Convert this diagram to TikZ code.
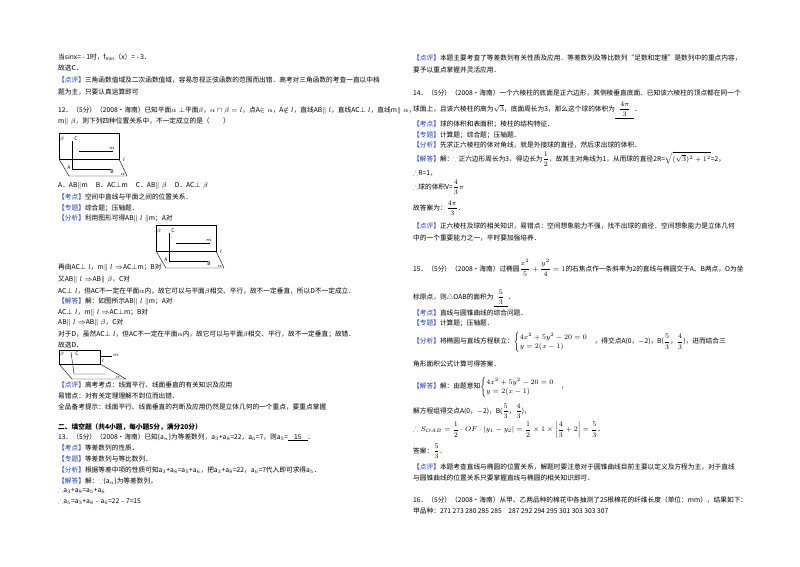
\documentclass[tikz,border=0pt]{standalone}
\usepackage{amsmath,amssymb}
\usepackage{fontspec}
\setmainfont{Noto Sans CJK SC}
\definecolor{tagblue}{RGB}{30,60,220}
\newcommand{\tx}[3]{\node[anchor=west,inner sep=0pt] at (#1,#2) {#3};}
\newcommand{\tg}[1]{\textcolor{tagblue}{【#1】}}
\newcommand{\planefig}[2]{%
\begin{scope}[shift={(#1,#2)}]
\draw (2,0) rectangle (62,26);
\draw[dashed] (2,26) -- (62,26);
\draw (2,26) -- (12,43) -- (70,43) -- (62,26);
\draw (15,8) -- (15,36) -- (54,36);
\draw (22,18) -- (56,18);
\node[font=\tiny,inner sep=0] at (5,6) {$\beta$};
\node[font=\tiny,inner sep=0] at (19,6) {C};
\node[font=\tiny,inner sep=0] at (55,15) {$m$};
\node[font=\tiny,inner sep=0] at (67,27) {$l$};
\node[font=\tiny,inner sep=0] at (12,35) {A};
\node[font=\tiny,inner sep=0] at (55,39) {B};
\node[font=\tiny,inner sep=0] at (66,41) {$\alpha$};
\end{scope}}
\begin{document}
\begin{tikzpicture}[x=1pt,y=-1pt,font=\fontsize{6.7}{8}\selectfont]
\fill[white] (0,0) rectangle (800,566);
% left column
\tx{58}{57}{当sinx= - 1时，f$_{\min}$（x）= - 3．}
\tx{58}{68}{故选C．}
\tx{58}{80}{\tg{点评}三角函数值域及二次函数值域，容易忽视正弦函数的范围而出错．高考对三角函数的考查一直以中档}
\tx{58}{92}{题为主，只要认真运算即可}
\tx{58}{111}{12．（5分）（2008•海南）已知平面$\alpha\perp$平面$\beta$，$\alpha\cap\beta=l$，点A$\in\alpha$，A$\notin l$，直线AB$\parallel l$，直线AC$\perp l$，直线m$\parallel\alpha$，}
\tx{58}{122}{m$\parallel\beta$，则下列四种位置关系中，不一定成立的是（　　）}
\planefig{57}{133}
\tx{58}{186}{A．AB$\parallel$m　 B．AC$\perp$m　 C．AB$\parallel\beta$　 D．AC$\perp\beta$}
\tx{58}{197}{\tg{考点}空间中直线与平面之间的位置关系．}
\tx{58}{208}{\tg{专题}综合题；压轴题．}
\tx{58}{219}{\tg{分析}利用图形可得AB$\parallel l\parallel$m；A对}
\planefig{154}{225}
\tx{58}{268}{再由AC$\perp l$，m$\parallel l\Rightarrow$AC$\perp$m；B对}
\tx{58}{280}{又AB$\parallel l\Rightarrow$AB$\parallel\beta$，C对}
\tx{58}{291}{AC$\perp l$，但AC不一定在平面$\alpha$内，故它可以与平面$\beta$相交、平行，故不一定垂直，所以D不一定成立．}
\tx{58}{302}{\tg{解答}解：如图所示AB$\parallel l\parallel$m；A对}
\tx{58}{313}{AC$\perp l$，m$\parallel l\Rightarrow$AC$\perp$m；B对}
\tx{58}{323}{AB$\parallel l\Rightarrow$AB$\parallel\beta$，C对}
\tx{58}{334}{对于D，虽然AC$\perp l$，但AC不一定在平面$\alpha$内，故它可以与平面$\beta$相交、平行，故不一定垂直；故错．}
\tx{58}{345}{故选D．}
\begin{scope}[shift={(58,350)}]
\draw (1,0) rectangle (42,14);
\draw (1,14) -- (14,29) -- (68,29) -- (42,14);
\draw (42,14) -- (42,6) -- (54,6);
\draw (13,2) -- (16,24) -- (48,24);
\node[font=\tiny,inner sep=0] at (4,4) {$\beta$};
\node[font=\tiny,inner sep=0] at (19,4) {C};
\node[font=\tiny,inner sep=0] at (58,5) {$m$};
\node[font=\tiny,inner sep=0] at (45,11) {$l$};
\node[font=\tiny,inner sep=0] at (60,27) {$\alpha$};
\end{scope}
\tx{58}{385}{\tg{点评}高考考点：线面平行、线面垂直的有关知识及应用}
\tx{58}{396}{易错点：对有关定理理解不到位而出错．}
\tx{58}{407}{全品备考提示：线面平行、线面垂直的判断及应用仍然是立体几何的一个重点，要重点掌握}
\tx{58}{427}{\textbf{二、填空题（共4小题，每小题5分，满分20分）}}
\tx{58}{437}{13．（5分）（2008•海南）已知\{a$_n$\}为等差数列，a$_3$+a$_8$=22，a$_6$=7，则a$_5$=\underline{\hspace{6pt}15\hspace{6pt}}．}
\tx{58}{448}{\tg{考点}等差数列的性质．}
\tx{58}{459}{\tg{专题}等差数列与等比数列．}
\tx{58}{470}{\tg{分析}根据等差中项的性质可知a$_3$+a$_8$=a$_5$+a$_6$，把a$_3$+a$_8$=22，a$_6$=7代入即可求得a$_5$．}
\tx{58}{481}{\tg{解答}解：$\because$\{a$_n$\}为等差数列，}
\tx{58}{491}{$\therefore$a$_3$+a$_8$=a$_5$+a$_6$}
\tx{58}{502}{$\therefore$a$_5$=a$_3$+a$_8$﹣a$_6$=22﹣7=15}
% right column
\tx{413}{58}{\tg{点评}本题主要考查了等差数列有关性质及应用．等差数列及等比数列“足数和定理”是数列中的重点内容，}
\tx{413}{70}{要予以重点掌握并灵活应用．}
\tx{413}{93}{14．（5分）（2008•海南）一个六棱柱的底面是正六边形，其侧棱垂直底面．已知该六棱柱的顶点都在同一个}
\tx{413}{110}{球面上，且该六棱柱的高为$\sqrt{3}$，底面周长为3，那么这个球的体积为\underline{\hspace{4pt}$\dfrac{4\pi}{3}$\hspace{4pt}}．}
\tx{413}{124}{\tg{考点}球的体积和表面积；棱柱的结构特征．}
\tx{413}{135}{\tg{专题}计算题；综合题；压轴题．}
\tx{413}{145}{\tg{分析}先求正六棱柱的体对角线，就是外接球的直径，然后求出球的体积．}
\tx{413}{159}{\tg{解答}解：$\because$正六边形周长为3，得边长为$\dfrac12$，故其主对角线为1，从而球的直径2R=$\sqrt{(\sqrt3)^2+1^2}$=2，}
\tx{413}{173}{$\therefore$R=1，}
\tx{413}{187}{$\therefore$球的体积V=$\dfrac43\pi$}
\tx{413}{208}{故答案为：$\dfrac{4\pi}{3}$．}
\tx{413}{226}{\tg{点评}正六棱柱及球的相关知识，易错点：空间想象能力不强，找不出球的直径．空间想象能力是立体几何}
\tx{413}{238}{中的一个重要能力之一，平时要加强培养．}
\tx{413}{268}{15．（5分）（2008•海南）过椭圆$\dfrac{x^2}{5}+\dfrac{y^2}{4}=1$的右焦点作一条斜率为2的直线与椭圆交于A、B两点，O为坐}
\tx{413}{298}{标原点，则△OAB的面积为\underline{\hspace{4pt}$\dfrac53$\hspace{4pt}}．}
\tx{413}{313}{\tg{考点}直线与圆锥曲线的综合问题．}
\tx{413}{323}{\tg{专题}计算题；压轴题．}
\tx{413}{342}{\tg{分析}将椭圆与直线方程联立：$\begin{cases}4x^2+5y^2-20=0\\ y=2(x-1)\end{cases}$，得交点A(0，$-$2)，B($\dfrac53$，$\dfrac43$)，进而结合三}
\tx{413}{364}{角形面积公式计算可得答案．}
\tx{413}{387}{\tg{解答}解：由题意知$\begin{cases}4x^2+5y^2-20=0\\ y=2(x-1)\end{cases}$，}
\tx{413}{411}{解方程组得交点A(0，$-$2)，B($\dfrac53$，$\dfrac43$)，}
\tx{413}{430}{$\therefore S_{OAB}=\dfrac12\cdot OF\cdot|y_1-y_2|=\dfrac12\times1\times\left|\dfrac43+2\right|=\dfrac53$．}
\tx{413}{451}{答案：$\dfrac53$．}
\tx{413}{467}{\tg{点评}本题考查直线与椭圆的位置关系，解题时要注意对于圆锥曲线目前主要以定义及方程为主，对于直线}
\tx{413}{478}{与圆锥曲线的位置关系只要掌握直线与椭圆的相关知识即可．}
\tx{413}{500}{16．（5分）（2008•海南）从甲、乙两品种的棉花中各抽测了25根棉花的纤维长度（单位：mm），结果如下：}
\tx{413}{511}{甲品种：271 273 280 285 285　287 292 294 295 301 303 303 307}
\end{tikzpicture}
\end{document}
